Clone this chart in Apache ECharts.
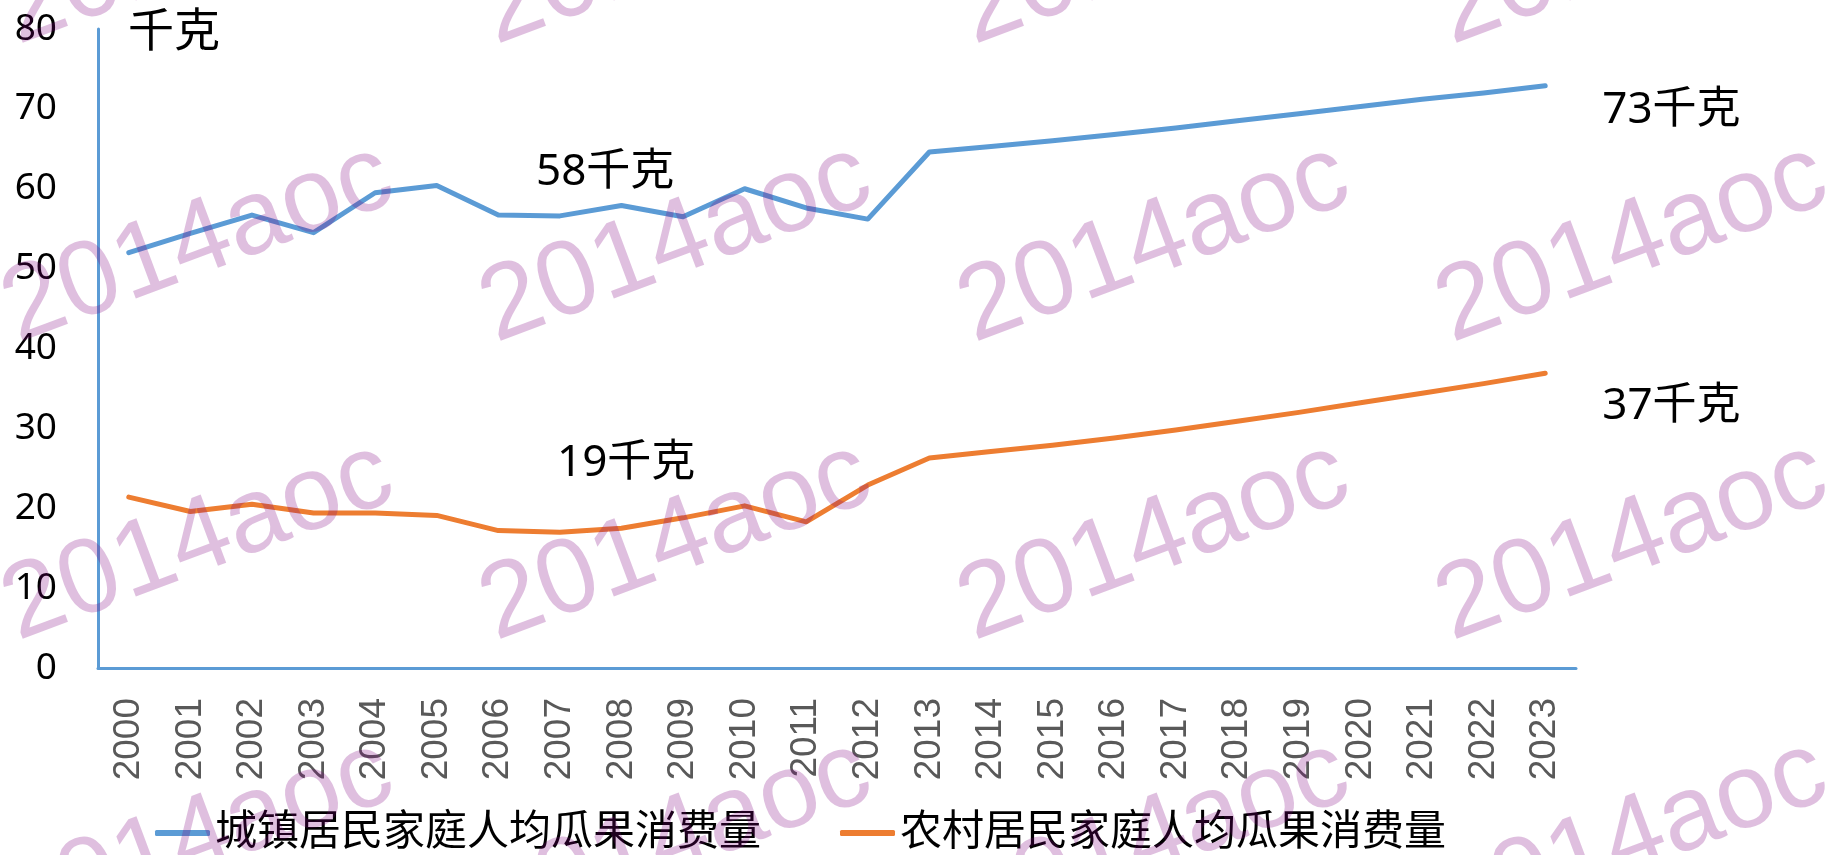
<!DOCTYPE html>
<html style="height: 100%">
<head>
<meta charset="utf-8">
<title>城镇与农村居民家庭人均瓜果消费量</title>
<script src="https://cdn.jsdelivr.net/npm/echarts@6/dist/echarts.min.js"></script>
</head>
<body style="height: 100%; margin: 0; background: #fff">
<div id="main" style="width: 1842px; height: 855px"></div>
<script type="text/javascript">
// 年份
var years = ['2000', '2001', '2002', '2003', '2004', '2005', '2006', '2007', '2008', '2009', '2010', '2011',
             '2012', '2013', '2014', '2015', '2016', '2017', '2018', '2019', '2020', '2021', '2022', '2023'];
// 城镇居民家庭人均瓜果消费量(千克)
var urban = [52.0, 54.4, 56.7, 54.5, 59.5, 60.4, 56.7, 56.6, 57.9, 56.5, 60.0, 57.6,
             56.2, 64.6, 65.3, 66.0, 66.8, 67.6, 68.5, 69.4, 70.3, 71.2, 72.0, 72.9];
// 农村居民家庭人均瓜果消费量(千克)
var rural = [21.4, 19.6, 20.5, 19.4, 19.4, 19.1, 17.2, 17.0, 17.5, 18.8, 20.3, 18.3,
             22.9, 26.3, 27.1, 27.9, 28.8, 29.8, 30.9, 32.0, 33.2, 34.4, 35.6, 36.9];
var seriesNames = ['城镇居民家庭人均瓜果消费量', '农村居民家庭人均瓜果消费量'];
var notes = ['58千克', '19千克'];

var cjk = '"Noto Sans", "Noto Sans CJK SC", sans-serif';
var myChart = echarts.init(document.getElementById('main'));

// 水印
var marks = [];
for (var i = 0; i < 4; i++) {
    for (var j = 0; j < 4; j++) {
        marks.push({
            type: 'text',
            x: 198 + 478 * i,
            y: -54 + 298 * j,
            rotation: 20.5 * Math.PI / 180,
            z: 100,
            silent: true,
            style: {
                text: '2014aoc',
                font: '106px "Liberation Sans", Arial, sans-serif',
                fill: 'rgba(128,0,128,0.25)',
                align: 'center',
                verticalAlign: 'middle'
            }
        });
    }
}
// 注释文字
marks.push({ type: 'text', left: 536, top: 150, z: 50,
    style: { text: notes[0], font: '44px ' + cjk, fill: '#000' } });
marks.push({ type: 'text', left: 557, top: 441, z: 50,
    style: { text: notes[1], font: '44px ' + cjk, fill: '#000' } });

var option = {
    backgroundColor: '#fff',
    animation: false,
    grid: { left: 98, right: 266, top: 29, bottom: 187, containLabel: false },
    legend: {
        left: 155,
        top: 812,
        padding: 0,
        itemGap: 79,
        itemWidth: 55,
        itemHeight: 6,
        icon: 'roundRect',
        textStyle: { fontSize: 42, lineHeight: 42, color: '#000', fontFamily: cjk },
        data: seriesNames
    },
    xAxis: {
        type: 'category',
        data: years,
        boundaryGap: true,
        axisLine: { show: true, lineStyle: { color: '#5b9bd5', width: 3 } },
        axisTick: { show: false },
        axisLabel: {
            interval: 0,
            rotate: 90,
            margin: 30,
            fontSize: 37,
            color: '#595959',
            fontFamily: '"Liberation Sans", Arial, sans-serif'
        }
    },
    yAxis: {
        type: 'value',
        min: 0,
        max: 80,
        interval: 10,
        name: '千克',
        nameLocation: 'end',
        nameGap: -4,
        nameTextStyle: {
            fontSize: 46, color: '#000', fontFamily: cjk,
            align: 'left', verticalAlign: 'middle', padding: [0, 0, 0, 30]
        },
        axisLine: { show: true, lineStyle: { color: '#5b9bd5', width: 3 } },
        axisTick: { show: false },
        splitLine: { show: false },
        axisLabel: { fontSize: 37, color: '#000', margin: 41, fontFamily: cjk }
    },
    series: [
        {
            name: seriesNames[0],
            type: 'line',
            data: urban,
            symbol: 'none',
            itemStyle: { color: '#5b9bd5' },
            lineStyle: { color: '#5b9bd5', width: 5, cap: 'round', join: 'round' },
            endLabel: {
                show: true,
                formatter: function (p) { return Math.round(p.value) + '千克'; },
                distance: 57,
                offset: [0, 25],
                fontSize: 44,
                color: '#000',
                fontFamily: cjk
            }
        },
        {
            name: seriesNames[1],
            type: 'line',
            data: rural,
            symbol: 'none',
            itemStyle: { color: '#ed7d31' },
            lineStyle: { color: '#ed7d31', width: 5, cap: 'round', join: 'round' },
            endLabel: {
                show: true,
                formatter: function (p) { return Math.round(p.value) + '千克'; },
                distance: 57,
                offset: [0, 33],
                fontSize: 44,
                color: '#000',
                fontFamily: cjk
            }
        }
    ],
    graphic: marks
};
myChart.setOption(option);
</script>
</body>
</html>
